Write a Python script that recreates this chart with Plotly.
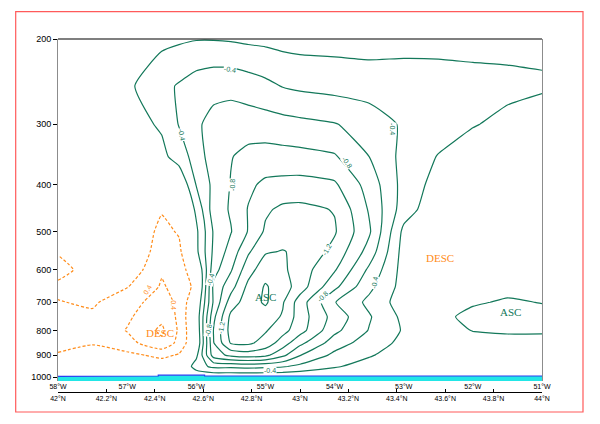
import numpy as np
import plotly.graph_objects as go

# ---------------- data ----------------
lon_grid = [-58, -57.5, -57, -56.5, -56.25, -56, -55.75, -55.5, -55.25, -55,
            -54.75, -54.5, -54, -53.5, -53, -52.5, -52, -51.5, -51]
p_levels = [200, 250, 300, 350, 400, 450, 500, 550, 600, 650, 700, 750, 800,
            850, 900, 950, 1000]

w200 = [0.0, 0.0, -0.04, -0.15, -0.17, -0.19, -0.19, -0.18, -0.16, -0.15, -0.13, -0.12, -0.12, -0.12, -0.13, -0.14, -0.14, -0.15, -0.16]
w250 = [0.0, -0.06, -0.16, -0.34, -0.42, -0.5, -0.54, -0.54, -0.5, -0.45, -0.39, -0.36, -0.33, -0.3, -0.3, -0.28, -0.26, -0.24, -0.22]
w300 = [0.0, -0.03, -0.1, -0.23, -0.41, -0.57, -0.66, -0.7, -0.7, -0.69, -0.67, -0.65, -0.61, -0.52, -0.37, -0.3, -0.21, -0.16, -0.12]
w350 = [0.0, -0.02, -0.06, -0.14, -0.3, -0.48, -0.72, -0.79, -0.86, -0.88, -0.87, -0.86, -0.82, -0.6, -0.34, -0.19, -0.12, -0.08, -0.06]
w400 = [0.0, -0.02, -0.05, 0.05, 0.0, -0.41, -0.65, -0.81, -0.96, -1.04, -1.06, -1.07, -1.03, -0.72, -0.33, -0.12, -0.06, -0.04, -0.03]
w450 = [0.0, -0.02, -0.03, 0.18, 0.12, -0.24, -0.7, -0.82, -1.01, -1.17, -1.24, -1.25, -1.19, -0.78, -0.3, -0.05, -0.02, -0.02, -0.02]
w500 = [0.0, 0.0, -0.02, 0.26, 0.18, -0.16, -0.62, -0.79, -1.01, -1.23, -1.3, -1.32, -1.22, -0.83, -0.15, 0.0, 0.0, 0.0, 0.0]
w550 = [0.18, 0.0, 0.0, 0.3, 0.25, -0.15, -0.64, -0.88, -1.17, -1.38, -1.41, -1.36, -1.14, -0.72, -0.12, 0.02, 0.02, 0.0, -0.02]
w600 = [0.28, 0.1, 0.05, 0.38, 0.3, 0.05, -0.72, -0.98, -1.32, -1.52, -1.44, -1.3, -1.02, -0.56, -0.12, 0.05, 0.05, 0.0, -0.05]
w650 = [0.15, 0.12, 0.19, 0.42, 0.34, 0.14, -0.85, -1.12, -1.45, -1.62, -1.5, -1.3, -0.85, -0.45, -0.12, 0.03, 0.05, -0.1, -0.08]
w700 = [0.21, 0.17, 0.33, 0.48, 0.36, 0.0, -0.83, -1.3, -1.5, -1.63, -1.42, -1.1, -0.61, -0.35, -0.1, 0.02, -0.16, -0.24, -0.19]
w750 = [0.3, 0.24, 0.37, 0.55, 0.36, -0.05, -0.95, -1.45, -1.52, -1.5, -1.38, -1.1, -0.72, -0.42, -0.15, -0.1, -0.3, -0.32, -0.3]
w800 = [0.32, 0.26, 0.41, 0.64, 0.37, -0.02, -1.01, -1.48, -1.5, -1.42, -1.27, -1.08, -0.65, -0.39, -0.18, -0.08, -0.21, -0.24, -0.23]
w850 = [0.27, 0.21, 0.33, 0.55, 0.34, 0.0, -0.99, -1.42, -1.44, -1.32, -1.1, -0.85, -0.5, -0.3, -0.15, -0.06, -0.08, -0.1, -0.12]
w900 = [0.18, 0.14, 0.15, 0.25, 0.18, -0.15, -0.9, -1.05, -1.1, -1.05, -0.85, -0.61, -0.35, -0.22, -0.1, -0.05, -0.04, -0.05, -0.06]
w950 = [0.05, 0.05, 0.05, 0.08, 0.05, -0.3, -0.45, -0.45, -0.47, -0.45, -0.42, -0.35, -0.22, -0.12, -0.05, -0.02, 0.0, 0.0, 0.0]
w1000 = [0.0, 0.0, 0.0, 0.0, 0.0, -0.02, -0.02, -0.02, -0.02, -0.02, -0.02, -0.02, -0.02, -0.02, -0.01, 0.0, 0.0, 0.0, 0.0]

omega = [w200, w250, w300, w350, w400, w450, w500, w550, w600, w650, w700,
         w750, w800, w850, w900, w950, w1000]

lon_ticks = [-58, -57, -56, -55, -54, -53, -52, -51]
lon_labels = ["58°W", "57°W", "56°W", "55°W", "54°W", "53°W", "52°W", "51°W"]
lat_ticks = [42, 42.2, 42.4, 42.6, 42.8, 43, 43.2, 43.4, 43.6, 43.8, 44]
lat_labels = ["42°N", "42.2°N", "42.4°N", "42.6°N", "42.8°N", "43°N",
              "43.2°N", "43.4°N", "43.6°N", "43.8°N", "44°N"]
p_ticks = [200, 300, 400, 500, 600, 700, 800, 900, 1000]
p_labels = ["200", "300", "400", "500", "600", "700", "800", "900", "1000"]

surf_lon = [-58, -57.78, -57.78, -56.55, -56.55, -55.88, -55.88, -51]
surf_p = [996, 996, 994, 994, 990, 990, 994, 994]
p_bottom = 1018

# contour-line labels (value text, longitude, pressure, text angle)
clab_text = ["-0.4", "-0.4", "-0.4", "-0.8", "-0.8", "-0.4", "-0.8", "-1.2",
             "-0.4", "-1.2", "-0.8", "-0.4", "0.4", "0.4"]
clab_lon = [-55.51, -56.21, -53.155, -55.48, -53.82, -55.79, -55.83, -55.63,
            -54.93, -54.11, -54.17, -53.415, -56.70, -56.34]
clab_p = [231, 315, 307, 400, 360, 629, 799, 791, 967, 545, 682, 638, 660, 709]
clab_ang = [10, 80, 90, -90, 55, -75, -80, -80, 0, -60, -45, -80, -60, 90]

# ---------------- styles ----------------
GREEN = "#13785a"
ORANGE = "#ff8c1a"
LBLFONT = "Liberation Sans"

fig = go.Figure()


def add_contour(start, end, color, dash):
    fig.add_trace(go.Contour(
        x=lon_grid, y=p_levels, z=omega,
        autocontour=False,
        contours=dict(start=start, end=end, size=0.2, coloring="none",
                      showlabels=False),
        line=dict(color=color, width=1.2, dash=dash, smoothing=0.5),
        showscale=False, hoverinfo="skip"))


add_contour(-1.6, -0.2, GREEN, "solid")
add_contour(0.2, 0.6, ORANGE, "3px,2px")

# surface strip
fig.add_trace(go.Scatter(
    x=surf_lon + surf_lon[::-1],
    y=surf_p + [p_bottom] * len(surf_lon),
    fill="toself", fillcolor="#22e6e6", line=dict(width=0),
    mode="lines", showlegend=False, hoverinfo="skip"))
fig.add_trace(go.Scatter(
    x=surf_lon, y=surf_p, mode="lines",
    line=dict(color="#2a3cf0", width=1.2),
    showlegend=False, hoverinfo="skip"))

# invisible trace to carry the latitude axis
fig.add_trace(go.Scatter(x=[lat_ticks[0], lat_ticks[-1]], y=[500, 500],
                         xaxis="x2", yaxis="y", mode="markers",
                         marker=dict(opacity=0), showlegend=False,
                         hoverinfo="skip"))

for t, lo, p, ang in zip(clab_text, clab_lon, clab_p, clab_ang):
    col = ORANGE if not t.startswith("-") else GREEN
    fig.add_annotation(x=lo, y=np.log10(p), xref="x", yref="y", text=t,
                       showarrow=False, textangle=ang, bgcolor="white",
                       borderpad=0,
                       font=dict(family=LBLFONT, size=7, color=col))

SERIF = "Liberation Serif"
annots = [
    dict(x=-55.0, y=np.log10(682), text="ASC", color=GREEN),
    dict(x=-51.46, y=np.log10(733), text="ASC", color=GREEN),
    dict(x=-56.53, y=np.log10(810), text="DESC", color=ORANGE),
    dict(x=-52.47, y=np.log10(567), text="DESC", color=ORANGE),
]
for a in annots:
    fig.add_annotation(x=a["x"], y=a["y"], xref="x", yref="y", text=a["text"],
                       showarrow=False,
                       font=dict(family=SERIF, size=11, color=a["color"]))

fig.update_layout(
    width=600, height=424,
    margin=dict(l=50, r=66, t=31, b=18),
    paper_bgcolor="white", plot_bgcolor="white",
    showlegend=False,
    xaxis=dict(range=[-58, -51], tickvals=lon_ticks, ticktext=lon_labels,
               ticks="", showgrid=False, zeroline=False, showline=False,
               tickfont=dict(size=7, family=LBLFONT, color="black"),
               anchor="y"),
    xaxis2=dict(range=[42, 44], overlaying="x", anchor="free", position=0.0587,
                side="bottom", tickvals=lat_ticks, ticktext=lat_labels,
                ticks="inside", ticklen=3, tickcolor="black",
                showline=True, linecolor="black", linewidth=1,
                showgrid=False, zeroline=False,
                tickfont=dict(size=7, family=LBLFONT, color="black")),
    yaxis=dict(type="log", range=[np.log10(p_bottom), np.log10(200)],
               domain=[0.088, 1], tickvals=p_ticks, ticktext=p_labels,
               ticks="outside", ticklen=4, tickcolor="black",
               showline=True, mirror=True, linecolor="#8c8c8c", linewidth=1,
               showgrid=False, zeroline=False,
               tickfont=dict(size=9, family=LBLFONT, color="black")),
    shapes=[
        dict(type="line", xref="paper", yref="paper", x0=0, x1=1, y0=1, y1=1,
             line=dict(color="black", width=1.2)),
        dict(type="rect", xref="paper", yref="paper", x0=-0.0874, x1=1.0847,
             y0=0.0053, y1=1.0728, line=dict(color="#ff5a5a", width=1.2)),
    ],
)

fig.write_html("out.html")
